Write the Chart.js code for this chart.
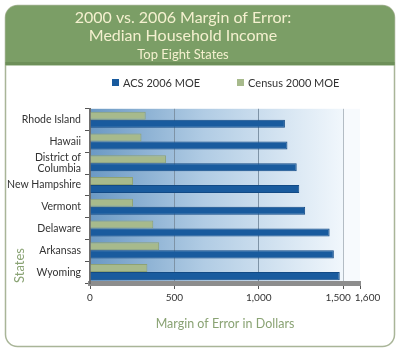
<!DOCTYPE html>
<html>
<head>
<meta charset="utf-8">
<script src="https://cdn.jsdelivr.net/npm/chart.js@4/dist/chart.umd.min.js"></script>
<style>
    html, body { margin: 0; padding: 0; background: #ffffff; }
    #wrap { position: relative; width: 400px; height: 351px; }
    #legend {
        position: absolute; left: 112px; top: 76px;
        display: flex; gap: 37px;
        font: 11px Lato, "Liberation Sans", sans-serif; color: #333333;
    }
    #legend span.item { display: flex; align-items: center; white-space: nowrap; }
    #legend span.box { display: inline-block; width: 7px; height: 7px; margin-right: 4px; }
</style>
</head>
<body>
<div id="wrap">
    <canvas id="chart" width="400" height="351"></canvas>
    <div id="legend"></div>
</div>
<script>
// values
const states = ['Rhode Island', 'Hawaii', ['District of', 'Columbia'], 'New Hampshire', 'Vermont', 'Delaware', 'Arkansas', 'Wyoming'];
const acs2006 = [1155, 1170, 1225, 1240, 1275, 1420, 1445, 1480];
const census2000 = [330, 305, 450, 255, 255, 375, 410, 340];
const xTicks = [0, 500, 1000, 1500, 1600];

const FONT = 'Lato, "Liberation Sans", sans-serif';

// card, header band and the shaded back wall
const backdrop = {
    id: 'backdrop',
    beforeDraw(chart) {
        const ctx = chart.ctx;
        const area = chart.chartArea;
        const x = chart.scales.x;
        ctx.save();

        // card
        ctx.beginPath();
        ctx.roundRect(5.5, 5.5, 389, 341, 12);
        ctx.fillStyle = '#ffffff';
        ctx.fill();
        ctx.lineWidth = 1.5;
        ctx.strokeStyle = '#a9b598';
        ctx.stroke();

        // header
        ctx.beginPath();
        ctx.roundRect(5.5, 5.5, 389, 60, [12, 12, 0, 0]);
        ctx.fillStyle = '#7b9e66';
        ctx.fill();
        ctx.fillStyle = '#6d8f59';
        ctx.fillRect(5.5, 62, 389, 3);

        // wall
        const wallRight = x.getPixelForValue(1500);
        const g = ctx.createLinearGradient(area.left, 0, wallRight, 0);
        g.addColorStop(0, '#6b99c4');
        g.addColorStop(0.45, '#b1cce4');
        g.addColorStop(1, '#f1f7fc');
        ctx.fillStyle = g;
        ctx.fillRect(area.left, area.top, wallRight - area.left, area.bottom - area.top);
        ctx.fillStyle = '#f7fafd';
        ctx.fillRect(wallRight, area.top, area.right - wallRight, area.bottom - area.top);
        ctx.restore();
    }
};

const chart = new Chart(document.getElementById('chart'), {
    type: 'bar',
    data: {
        labels: states,
        datasets: [
            {
                label: 'Census 2000 MOE',
                data: census2000,
                backgroundColor: '#a7ba8c',
                borderColor: '#8ea274',
                borderWidth: 1,
                barPercentage: 1,
                categoryPercentage: 0.74
            },
            {
                label: 'ACS 2006 MOE',
                data: acs2006,
                backgroundColor: '#195b9e',
                borderColor: '#124a85',
                borderWidth: 1,
                barPercentage: 1,
                categoryPercentage: 0.74
            }
        ]
    },
    options: {
        indexAxis: 'y',
        responsive: false,
        animation: false,
        layout: { padding: { top: 9, left: 6, right: 40, bottom: 20 } },
        plugins: {
            title: {
                display: true,
                text: ['2000 vs. 2006 Margin of Error:', 'Median Household Income'],
                color: '#f4f0cf',
                font: { family: FONT, size: 16, weight: 'normal', lineHeight: 1.1 },
                padding: { top: 0, bottom: 0 }
            },
            subtitle: {
                display: true,
                text: 'Top Eight States',
                color: '#f4f0cf',
                font: { family: FONT, size: 13, weight: 'normal', lineHeight: 1.2 },
                padding: { top: 3, bottom: 46 }
            },
            legend: { display: false },
            tooltip: { enabled: false }
        },
        scales: {
            x: {
                min: 0,
                max: 1600,
                afterBuildTicks(scale) {
                    scale.ticks = xTicks.map(v => ({ value: v }));
                },
                ticks: {
                    autoSkip: false,
                    maxRotation: 0,
                    padding: 3,
                    color: '#333333',
                    font: { family: FONT, size: 10 },
                    // the two last labels sit apart in the picture
                    callback: v => v === 1500 ? '1,500\u2002\u2002'
                        : v === 1600 ? '\u2002\u2002\u20021,600'
                        : v.toLocaleString('en-US')
                },
                grid: {
                    color: ctx => (ctx.tick && (ctx.tick.value === 500 || ctx.tick.value === 1000)) ? '#7e93a6'
                        : (ctx.tick && ctx.tick.value === 1500 ? '#b3bcc4' : 'rgba(0,0,0,0)'),
                    tickColor: '#555555',
                    tickLength: 6,
                    lineWidth: 1
                },
                border: { display: true, color: '#8d8d8d', width: 5 },
                title: {
                    display: true,
                    text: 'Margin of Error in Dollars',
                    color: '#8aa374',
                    font: { family: FONT, size: 12.5 },
                    padding: { top: 9, bottom: 0 }
                }
            },
            y: {
                afterFit(scale) { scale.width = 84; },
                ticks: {
                    autoSkip: false,
                    padding: 4,
                    color: '#333333',
                    font: { family: FONT, size: 10.5, lineHeight: 1.1 }
                },
                grid: {
                    drawOnChartArea: false,
                    offset: true,
                    tickLength: 5,
                    tickColor: '#555555'
                },
                border: { display: true, color: '#6d6d6d', width: 2 },
                title: {
                    display: true,
                    text: 'States',
                    align: 'start',
                    color: '#8aa374',
                    font: { family: FONT, size: 13 },
                    padding: { top: 6, bottom: 0 }
                }
            }
        }
    },
    plugins: [backdrop]
});

// legend in the order of the picture: ACS first
const legend = document.getElementById('legend');
for (const ds of chart.data.datasets.slice().reverse()) {
    const item = document.createElement('span');
    item.className = 'item';
    const box = document.createElement('span');
    box.className = 'box';
    box.style.background = ds.backgroundColor;
    item.appendChild(box);
    item.appendChild(document.createTextNode(ds.label));
    legend.appendChild(item);
}
</script>
</body>
</html>
